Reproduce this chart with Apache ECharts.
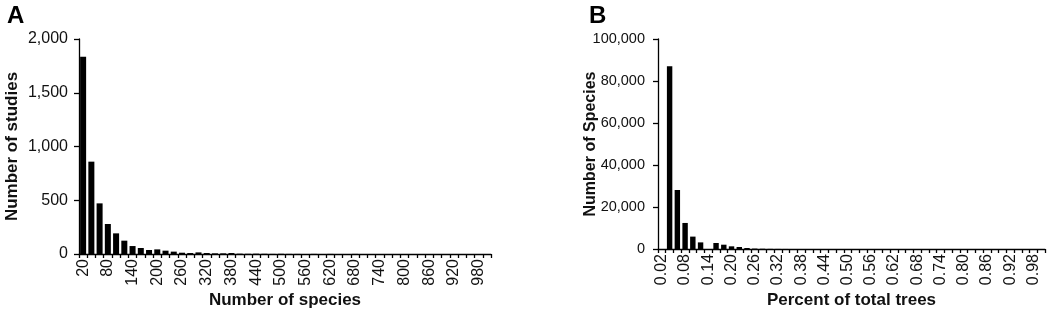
<!DOCTYPE html>
<html>
<head>
<meta charset="utf-8">
<script src="https://cdn.jsdelivr.net/npm/echarts@6/dist/echarts.min.js"></script>
<style>
  html, body { margin: 0; padding: 0; background: #fff; }
  #chart { width: 1052px; height: 319px; }
</style>
</head>
<body>
<div id="chart"></div>
<script>
// panel A: number of species per study (bins of 20)
var species_bins = ['20','40','60','80','100','120','140','160','180','200',
    '220','240','260','280','300','320','340','360','380','400',
    '420','440','460','480','500','520','540','560','580','600',
    '620','640','660','680','700','720','740','760','780','800',
    '820','840','860','880','900','920','940','960','980','1000'];
var studies_count = [1835, 859, 471, 279, 192, 124, 74, 56, 37, 43,
    31, 22, 12, 9, 15, 9, 6, 6, 9, 3,
    2, 3, 2, 1, 2, 1, 1, 0, 1, 0,
    1, 0, 0, 1, 0, 0, 0, 0, 0, 0,
    0, 0, 0, 0, 0, 0, 0, 0, 0, 0];

// panel B: percent of total trees (bins of 0.02)
var percent_bins = ['0.02','0.04','0.06','0.08','0.10','0.12','0.14','0.16','0.18','0.20',
    '0.22','0.24','0.26','0.28','0.30','0.32','0.34','0.36','0.38','0.40',
    '0.42','0.44','0.46','0.48','0.50','0.52','0.54','0.56','0.58','0.60',
    '0.62','0.64','0.66','0.68','0.70','0.72','0.74','0.76','0.78','0.80',
    '0.82','0.84','0.86','0.88','0.90','0.92','0.94','0.96','0.98','1.00'];
var species_count = [0, 87000, 28100, 12400, 5900, 3150, 0, 2860, 2050, 1270,
    950, 480, 200, 120, 60, 40, 20, 10, 0, 0,
    0, 0, 0, 0, 0, 0, 0, 0, 0, 0,
    0, 0, 0, 0, 0, 0, 0, 0, 0, 0,
    0, 0, 0, 0, 0, 0, 0, 0, 0, 0];

var font = 'Liberation Sans, Arial, sans-serif';

function x_axis(idx, cats, name, gap) {
    return {
        type: 'category',
        gridIndex: idx,
        data: cats,
        name: name,
        nameLocation: 'middle',
        nameGap: gap,
        nameMoveOverlap: false,
        nameTextStyle: {fontFamily: font, fontSize: 17, fontWeight: 'bold', color: '#111'},
        axisLine: {lineStyle: {color: '#000', width: 1.3}},
        axisTick: {show: true, interval: 0, length: 4, lineStyle: {color: '#000', width: 1.3}},
        axisLabel: {interval: 2, rotate: 90, margin: 5, fontFamily: font, fontSize: 16, color: '#111'}
    };
}

function y_axis(idx, max, step, name, gap, name_size, label_size, label_margin) {
    return {
        type: 'value',
        gridIndex: idx,
        min: 0,
        max: max,
        interval: step,
        name: name,
        nameLocation: 'middle',
        nameGap: gap,
        nameMoveOverlap: false,
        nameTextStyle: {fontFamily: font, fontSize: name_size, fontWeight: 'bold', color: '#111'},
        splitLine: {show: false},
        axisLine: {show: true, lineStyle: {color: '#000', width: 1.3}},
        axisTick: {show: true, length: 5, lineStyle: {color: '#000', width: 1.3}},
        axisLabel: {
            margin: label_margin, fontFamily: font, fontSize: label_size, color: '#111',
            formatter: function (v) { return v.toLocaleString('en-US'); }
        }
    };
}

var chart = echarts.init(document.getElementById('chart'));
var option = {
    animation: false,
    title: [
        {text: 'A', left: 2, top: -1, textStyle: {fontFamily: font, fontSize: 24, fontWeight: 'bold', color: '#000'}},
        {text: 'B', left: 584, top: -1, textStyle: {fontFamily: font, fontSize: 24, fontWeight: 'bold', color: '#000'}}
    ],
    grid: [
        {left: 79, right: 561, top: 39, bottom: 65},
        {left: 658, right: 7, top: 39, bottom: 70}
    ],
    xAxis: [
        x_axis(0, species_bins, 'Number of species', 38),
        x_axis(1, percent_bins, 'Percent of total trees', 43)
    ],
    yAxis: [
        y_axis(0, 2000, 500, 'Number of studies', 58, 17, 16, 11),
        y_axis(1, 100000, 20000, 'Number of Species', 59, 16, 14.5, 13)
    ],
    series: [
        {
            type: 'bar', xAxisIndex: 0, yAxisIndex: 0,
            data: studies_count, barCategoryGap: '27%',
            itemStyle: {color: '#000'}
        },
        {
            type: 'bar', xAxisIndex: 1, yAxisIndex: 1,
            data: species_count, barCategoryGap: '30%',
            itemStyle: {color: '#000'}
        }
    ]
};
chart.setOption(option);
</script>
</body>
</html>
